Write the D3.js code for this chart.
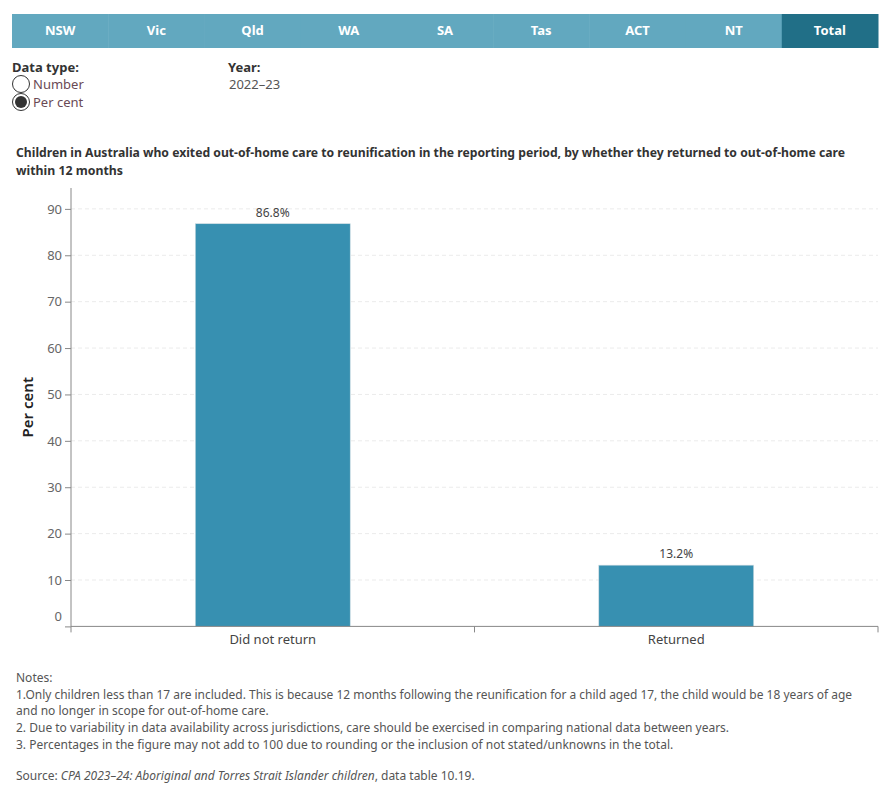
<!DOCTYPE html>
<html>
<head>
<meta charset="utf-8">
<script src="https://cdn.jsdelivr.net/npm/d3@7"></script>
<style>
  body { margin: 0; background: #fff; font-family: "Noto Sans", "Open Sans", sans-serif; }
  svg text { font-family: "Noto Sans", "Open Sans", sans-serif; }
</style>
</head>
<body>
<svg id="chart" width="890" height="800"></svg>
<script>
// tabs across the top
const tabs = ['NSW', 'Vic', 'Qld', 'WA', 'SA', 'Tas', 'ACT', 'NT', 'Total']
const activeTab = 'Total'

// bar data
const categories = ['Did not return', 'Returned']
const values = [86.8, 13.2]
const yTicks = [0, 10, 20, 30, 40, 50, 60, 70, 80, 90]

const notes = [
    'Notes:',
    '1.Only children less than 17 are included. This is because 12 months following the reunification for a child aged 17, the child would be 18 years of age',
    'and no longer in scope for out-of-home care.',
    '2. Due to variability in data availability across jurisdictions, care should be exercised in comparing national data between years.',
    '3. Percentages in the figure may not add to 100 due to rounding or the inclusion of not stated/unknowns in the total.'
]

const svg = d3.select('#chart')

// ---- tab bar ----
const tabX = d3.scaleBand().domain(tabs).range([12, 878])
const tabG = svg.selectAll('.tab').data(tabs).enter().append('g').attr('class', 'tab')
tabG.append('rect')
    .attr('x', d => tabX(d))
    .attr('y', 14)
    .attr('width', tabX.bandwidth() + 0.5)
    .attr('height', 34)
    .attr('fill', d => d === activeTab ? '#216f87' : '#62a8bf')
tabG.append('text')
    .attr('x', d => tabX(d) + tabX.bandwidth() / 2)
    .attr('y', 35)
    .attr('text-anchor', 'middle')
    .attr('font-size', 13)
    .attr('font-weight', 'bold')
    .attr('fill', '#fff')
    .text(d => d)

// ---- filters ----
svg.append('text').attr('x', 12).attr('y', 72).attr('font-size', 13).attr('font-weight', 'bold').attr('fill', '#333').text('Data type:')
svg.append('text').attr('x', 228).attr('y', 72).attr('font-size', 13).attr('font-weight', 'bold').attr('fill', '#333').text('Year:')
svg.append('text').attr('x', 229).attr('y', 89).attr('font-size', 13).attr('fill', '#555').text('2022–23')

const radios = [{label: 'Number', y: 84, on: false}, {label: 'Per cent', y: 102, on: true}]
radios.forEach(r => {
    svg.append('circle').attr('cx', 21).attr('cy', r.y).attr('r', 8.5).attr('fill', '#fff').attr('stroke', '#333').attr('stroke-width', 1)
    if (r.on) svg.append('circle').attr('cx', 21).attr('cy', r.y).attr('r', 6).attr('fill', '#333')
    svg.append('text').attr('x', 33).attr('y', r.y + 5).attr('font-size', 13).attr('fill', '#6a4a55').text(r.label)
})

// ---- title ----
svg.append('text').attr('x', 16).attr('y', 157).attr('font-size', 12).attr('font-weight', 'bold').attr('fill', '#333')
    .attr('textLength', 829).attr('lengthAdjust', 'spacingAndGlyphs')
    .text('Children in Australia who exited out-of-home care to reunification in the reporting period, by whether they returned to out-of-home care')
svg.append('text').attr('x', 16).attr('y', 175).attr('font-size', 12.5).attr('font-weight', 'bold').attr('fill', '#333')
    .attr('textLength', 107).attr('lengthAdjust', 'spacingAndGlyphs')
    .text('within 12 months')

// ---- chart ----
const plotLeft = 71, plotRight = 878, plotTop = 188, plotBottom = 626.4

const y = d3.scaleLinear().domain([0, 94.5]).range([plotBottom, plotTop])
const x = d3.scaleBand().domain(categories).range([plotLeft, plotRight]).padding(0)

// gridlines
svg.append('g').selectAll('line').data(yTicks.filter(d => d > 0)).enter().append('line')
    .attr('x1', plotLeft).attr('x2', plotRight)
    .attr('y1', d => y(d)).attr('y2', d => y(d))
    .attr('stroke', '#ebebeb').attr('stroke-dasharray', '4,3')

// y axis
const yAxis = svg.append('g').attr('transform', `translate(${plotLeft},0)`)
    .call(d3.axisLeft(y).tickValues(yTicks).tickSize(6).tickPadding(3))
yAxis.select('.domain').attr('stroke', '#888').attr('d', `M0,${plotTop}V${plotBottom}`)
yAxis.selectAll('.tick line').attr('stroke', '#888')
yAxis.selectAll('.tick text').attr('font-size', 13).attr('fill', '#666')
    .attr('dy', d => d === 0 ? '-0.45em' : '0.32em')

// bars
const barW = x.bandwidth() * 0.384
svg.append('g').selectAll('rect').data(categories).enter().append('rect')
    .attr('x', d => x(d) + x.bandwidth() / 2 - barW / 2)
    .attr('y', (d, i) => y(values[i]))
    .attr('width', barW)
    .attr('height', (d, i) => y(0) - y(values[i]))
    .attr('fill', '#3790b1')
    .attr('stroke', '#d0dde2').attr('stroke-width', 0.6)

// value labels
svg.append('g').selectAll('text').data(categories).enter().append('text')
    .attr('x', d => x(d) + x.bandwidth() / 2)
    .attr('y', (d, i) => y(values[i]) - 7)
    .attr('text-anchor', 'middle')
    .attr('font-size', 12)
    .attr('fill', '#444')
    .text((d, i) => values[i].toFixed(1) + '%')

// x axis
const xAxis = svg.append('g').attr('transform', `translate(0,${plotBottom})`)
    .call(d3.axisBottom(x).tickSize(0).tickPadding(8))
xAxis.select('.domain').attr('stroke', '#888').attr('d', `M${plotLeft},0H${plotRight}`)
xAxis.selectAll('.tick text').attr('font-size', 13).attr('fill', '#444')
// separator ticks at band edges
svg.append('g').attr('transform', `translate(0,${plotBottom})`)
    .selectAll('line').data([plotLeft, x(categories[1]), plotRight]).enter().append('line')
    .attr('x1', d => d).attr('x2', d => d).attr('y1', 0).attr('y2', 6)
    .attr('stroke', '#888')

// y label
svg.append('text')
    .attr('transform', `translate(33,${(plotTop + plotBottom) / 2}) rotate(-90)`)
    .attr('text-anchor', 'middle')
    .attr('font-size', 15)
    .attr('font-weight', 600)
    .attr('fill', '#222')
    .text('Per cent')

// ---- notes ----
svg.append('g').selectAll('text').data(notes).enter().append('text')
    .attr('x', 16)
    .attr('y', (d, i) => 682 + i * 16.7)
    .attr('font-size', 12)
    .attr('fill', '#555')
    .text(d => d)
    .each(function(d, i) { if (i === 1) d3.select(this).attr('textLength', 836).attr('lengthAdjust', 'spacingAndGlyphs') })

const src = svg.append('text').attr('x', 16).attr('y', 780).attr('font-size', 12).attr('fill', '#555')
src.append('tspan').text('Source: ')
src.append('tspan').attr('font-style', 'italic').text('CPA 2023–24: Aboriginal and Torres Strait Islander children')
src.append('tspan').text(', data table 10.19.')
</script>
</body>
</html>
